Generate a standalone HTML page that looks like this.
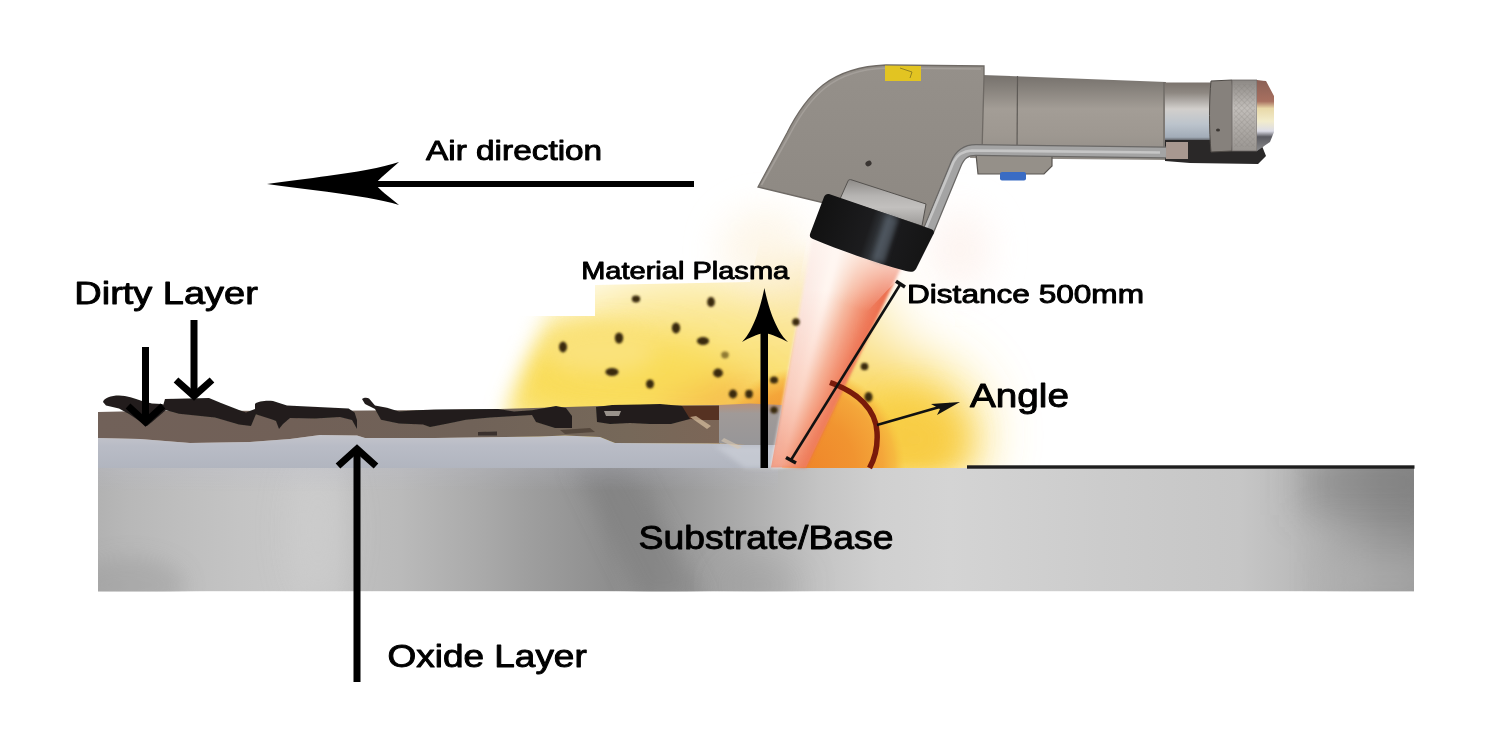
<!DOCTYPE html>
<html><head><meta charset="utf-8"><style>
html,body{margin:0;padding:0;background:#fff;width:1500px;height:750px;overflow:hidden}
svg{display:block}
text{font-family:"Liberation Sans",sans-serif;font-weight:normal;fill:#000;stroke:#000;stroke-width:0.95px;stroke-linejoin:round}
</style></head><body>
<svg width="1500" height="750" viewBox="0 0 1500 750">
<defs>
  <linearGradient id="sub" x1="98" y1="0" x2="1414" y2="0" gradientUnits="userSpaceOnUse">
    <stop offset="0.0000" stop-color="#b2b2b2"/>
    <stop offset="0.0243" stop-color="#b8b8b8"/>
    <stop offset="0.0623" stop-color="#bebebe"/>
    <stop offset="0.1079" stop-color="#c4c4c4"/>
    <stop offset="0.1535" stop-color="#c8c8c8"/>
    <stop offset="0.1801" stop-color="#c6c6c6"/>
    <stop offset="0.1991" stop-color="#bebebe"/>
    <stop offset="0.2295" stop-color="#bababa"/>
    <stop offset="0.2523" stop-color="#b4b4b4"/>
    <stop offset="0.2903" stop-color="#aaaaaa"/>
    <stop offset="0.3283" stop-color="#9e9e9e"/>
    <stop offset="0.3587" stop-color="#969696"/>
    <stop offset="0.3891" stop-color="#8e8e8e"/>
    <stop offset="0.4195" stop-color="#909090"/>
    <stop offset="0.4498" stop-color="#9c9c9c"/>
    <stop offset="0.4802" stop-color="#a8a8a8"/>
    <stop offset="0.5106" stop-color="#b4b4b4"/>
    <stop offset="0.5486" stop-color="#c4c4c4"/>
    <stop offset="0.5942" stop-color="#d0d0d0"/>
    <stop offset="0.6474" stop-color="#d4d4d4"/>
    <stop offset="0.7614" stop-color="#cccccc"/>
    <stop offset="0.8678" stop-color="#c6c6c6"/>
    <stop offset="0.9058" stop-color="#bcbcbc"/>
    <stop offset="0.9286" stop-color="#b0b0b0"/>
    <stop offset="0.9514" stop-color="#a2a2a2"/>
    <stop offset="0.9742" stop-color="#969696"/>
    <stop offset="1.0000" stop-color="#8e8e8e"/>
  </linearGradient>
  <linearGradient id="oxide" x1="0" y1="436" x2="0" y2="468" gradientUnits="userSpaceOnUse">
    <stop offset="0" stop-color="#c2c3ca"/>
    <stop offset="0.3" stop-color="#b9bcc6"/>
    <stop offset="1" stop-color="#b1b5bf"/>
  </linearGradient>
  <linearGradient id="brownG" x1="98" y1="0" x2="720" y2="0" gradientUnits="userSpaceOnUse">
    <stop offset="0" stop-color="#716159"/>
    <stop offset="0.3" stop-color="#716057"/>
    <stop offset="0.6" stop-color="#706258"/>
    <stop offset="0.85" stop-color="#766859"/>
    <stop offset="1" stop-color="#7c6657"/>
  </linearGradient>
  <linearGradient id="blockG" x1="0" y1="403" x2="0" y2="445" gradientUnits="userSpaceOnUse">
    <stop offset="0" stop-color="#b8907a"/>
    <stop offset="0.25" stop-color="#a09a98"/>
    <stop offset="1" stop-color="#979698"/>
  </linearGradient>
  <linearGradient id="beamV" x1="0" y1="290" x2="0" y2="467" gradientUnits="userSpaceOnUse">
    <stop offset="0" stop-color="#f39070" stop-opacity="0"/>
    <stop offset="0.6" stop-color="#f39070" stop-opacity="0.35"/>
    <stop offset="1" stop-color="#ef8060" stop-opacity="0.7"/>
  </linearGradient>
  <linearGradient id="beamTop" x1="866" y1="246" x2="846" y2="305" gradientUnits="userSpaceOnUse">
    <stop offset="0" stop-color="#fff8f4" stop-opacity="0.75"/>
    <stop offset="0.5" stop-color="#fff8f4" stop-opacity="0.35"/>
    <stop offset="1" stop-color="#fff8f4" stop-opacity="0"/>
  </linearGradient>
  <linearGradient id="subTop" x1="0" y1="468" x2="0" y2="492" gradientUnits="userSpaceOnUse">
    <stop offset="0" stop-color="#babccb" stop-opacity="0.25"/>
    <stop offset="1" stop-color="#babccb" stop-opacity="0"/>
  </linearGradient>
  <linearGradient id="rdark" x1="0" y1="468" x2="0" y2="591" gradientUnits="userSpaceOnUse">
    <stop offset="0" stop-color="#6a6a6a" stop-opacity="0.6"/>
    <stop offset="0.6" stop-color="#6a6a6a" stop-opacity="0.3"/>
    <stop offset="1" stop-color="#6a6a6a" stop-opacity="0.05"/>
  </linearGradient>
  <radialGradient id="glowO" cx="805" cy="467" r="100" gradientUnits="userSpaceOnUse">
    <stop offset="0" stop-color="#ef862a"/>
    <stop offset="0.5" stop-color="#f19430"/>
    <stop offset="0.78" stop-color="#f4a63a"/>
    <stop offset="0.9" stop-color="#f5b03c" stop-opacity="0.7"/>
    <stop offset="1" stop-color="#f7c040" stop-opacity="0"/>
  </radialGradient>
  <linearGradient id="headG" x1="0" y1="65" x2="0" y2="230" gradientUnits="userSpaceOnUse">
    <stop offset="0" stop-color="#95908a"/>
    <stop offset="1" stop-color="#8d8882"/>
  </linearGradient>
  <linearGradient id="handleG" x1="0" y1="75" x2="0" y2="160" gradientUnits="userSpaceOnUse">
    <stop offset="0" stop-color="#76716c"/>
    <stop offset="0.15" stop-color="#86817b"/>
    <stop offset="0.4" stop-color="#a39d96"/>
    <stop offset="0.7" stop-color="#9e9891"/>
    <stop offset="1" stop-color="#928d87"/>
  </linearGradient>
  <linearGradient id="cylG" x1="0" y1="82" x2="0" y2="142" gradientUnits="userSpaceOnUse">
    <stop offset="0" stop-color="#7a726c"/>
    <stop offset="0.18" stop-color="#8e8882"/>
    <stop offset="0.45" stop-color="#d2cfcc"/>
    <stop offset="0.7" stop-color="#bcc4cc"/>
    <stop offset="0.92" stop-color="#a2acb8"/>
    <stop offset="1" stop-color="#3a3838"/>
  </linearGradient>
  <linearGradient id="knurlG" x1="0" y1="80" x2="0" y2="150" gradientUnits="userSpaceOnUse">
    <stop offset="0" stop-color="#8c8884"/>
    <stop offset="0.4" stop-color="#c2beba"/>
    <stop offset="1" stop-color="#9a9692"/>
  </linearGradient>
  <linearGradient id="capG" x1="0" y1="80" x2="0" y2="151" gradientUnits="userSpaceOnUse">
    <stop offset="0" stop-color="#8a6055"/>
    <stop offset="0.3" stop-color="#a87060"/>
    <stop offset="0.4" stop-color="#e8d8a8"/>
    <stop offset="0.58" stop-color="#f2eccc"/>
    <stop offset="0.72" stop-color="#dcdce6"/>
    <stop offset="0.8" stop-color="#5a5a60"/>
    <stop offset="1" stop-color="#8a8a8c"/>
  </linearGradient>
  <linearGradient id="ringG" x1="827" y1="194" x2="933" y2="230" gradientUnits="userSpaceOnUse">
    <stop offset="0" stop-color="#121212"/>
    <stop offset="0.45" stop-color="#1c1c1e"/>
    <stop offset="0.6" stop-color="#3c4248"/>
    <stop offset="0.7" stop-color="#1a1a1c"/>
    <stop offset="1" stop-color="#151515"/>
  </linearGradient>
  <linearGradient id="silverG" x1="0" y1="0" x2="0" y2="1">
    <stop offset="0" stop-color="#8e8b88"/>
    <stop offset="0.35" stop-color="#b6b4b2"/>
    <stop offset="0.6" stop-color="#c2c0be"/>
    <stop offset="1" stop-color="#9c9a98"/>
  </linearGradient>
  <filter id="bl30" x="-50%" y="-50%" width="200%" height="200%"><feGaussianBlur stdDeviation="30"/></filter>
  <filter id="bl18" x="-50%" y="-50%" width="200%" height="200%"><feGaussianBlur stdDeviation="18"/></filter>
  <filter id="bl10" x="-50%" y="-50%" width="200%" height="200%"><feGaussianBlur stdDeviation="10"/></filter>
  <filter id="bl3" x="-20%" y="-20%" width="140%" height="140%"><feGaussianBlur stdDeviation="2.5"/></filter>
  <filter id="blp" x="-50%" y="-50%" width="200%" height="200%"><feGaussianBlur stdDeviation="0.7"/></filter>
  <filter id="blbeam" x="-20%" y="-20%" width="140%" height="140%"><feGaussianBlur stdDeviation="1.8"/></filter>
  <filter id="blpart" x="-50%" y="-50%" width="200%" height="200%"><feGaussianBlur stdDeviation="1.2"/></filter>
  <filter id="bl1" x="-20%" y="-20%" width="140%" height="140%"><feGaussianBlur stdDeviation="0.8"/></filter>
  <mask id="glowMask" maskUnits="userSpaceOnUse" x="0" y="0" width="1500" height="750">
    <path d="M560,250 L1500,250 L1500,480 L500,480 L505,410 L535,340 L548,300 Z" fill="#fff" filter="url(#bl10)"/>
  </mask>
  <pattern id="knurl" width="4" height="4" patternUnits="userSpaceOnUse" patternTransform="rotate(45)">
    <rect width="4" height="4" fill="none"/>
    <path d="M0,0 L4,0 M0,0 L0,4" stroke="#7a7672" stroke-width="0.8" opacity="0.5"/>
  </pattern>
  <clipPath id="subClip"><rect x="98" y="468" width="1316" height="123.2"/></clipPath>
  <clipPath id="glowClip"><path d="M0,316 L595,316 L595,285 L750,282 L770,200 L1100,200 L1100,468 L0,468 Z"/></clipPath>
</defs>

<!-- ============ GLOW ============ -->
<g clip-path="url(#glowClip)">
 <g mask="url(#glowMask)">
  <g filter="url(#bl30)">
    <ellipse cx="650" cy="382" rx="190" ry="68" fill="#f9de5c"/>
    <ellipse cx="890" cy="435" rx="85" ry="75" fill="#f9d446"/>
    <ellipse cx="700" cy="322" rx="125" ry="45" fill="#fbe68e"/>
    <ellipse cx="835" cy="330" rx="55" ry="50" fill="#fae496"/>
    <ellipse cx="800" cy="262" rx="45" ry="38" fill="#fcefd0"/>
  </g>
  <g filter="url(#bl18)">
    <ellipse cx="705" cy="398" rx="55" ry="22" fill="#f5b044"/>
    <ellipse cx="620" cy="372" rx="110" ry="34" fill="#f9dc58"/>
    <ellipse cx="915" cy="440" rx="50" ry="40" fill="#f8cc44"/>
  </g>
  <g filter="url(#bl10)">
    <ellipse cx="600" cy="350" rx="55" ry="24" fill="#fae27a"/>
  </g>
 </g>
  <circle cx="805" cy="467" r="100" fill="url(#glowO)"/>
</g>

<g filter="url(#bl18)" opacity="0.7">
  <ellipse cx="765" cy="250" rx="45" ry="40" fill="#fdf3e0"/>
  <ellipse cx="960" cy="250" rx="30" ry="40" fill="#fdf0ea"/>
</g>

<!-- ============ SUBSTRATE ============ -->
<rect x="98" y="468" width="1316" height="123.2" fill="url(#sub)"/>
<g clip-path="url(#subClip)">
  <g filter="url(#bl10)">
    <path d="M572,462 L628,462 L705,600 L640,600 Z" fill="#7a7a7a" opacity="0.45"/>
    <ellipse cx="130" cy="585" rx="55" ry="28" fill="#909090" opacity="0.35"/>
    </g><g filter="url(#bl18)">
    <rect x="1300" y="450" width="140" height="65" fill="#6a6a6a" opacity="0.35"/>
    <rect x="1330" y="550" width="110" height="60" fill="#c4c4c4" opacity="0.4"/>
    <ellipse cx="760" cy="585" rx="40" ry="20" fill="#8a8a8a" opacity="0.35"/>
    <ellipse cx="318" cy="530" rx="22" ry="70" fill="#d2d2d2" opacity="0.5"/>
  </g>
  <rect x="98" y="468" width="680" height="24" fill="url(#subTop)"/>
</g>
<!-- oxide layer -->
<path d="M98,438 L140,439 L190,443 L250,442 L290,439 L320,435 L357,435.5 L365,438 L435,438 L540,436.5 L565,435.5 L600,437 L615,443 L720,443.5 L745,445 L782,445 L782,468 L98,468 Z" fill="url(#oxide)"/>
<!-- dirty brown layer -->
<path d="M98,412 L165,410.5 L300,411 L435,410 L500,409 L600,406 L720,405 L720,443.5 L615,443 L600,437 L565,435.5 L540,436.5 L435,438 L365,438 L357,435.5 L320,435 L290,439 L250,442 L190,443 L140,439 L98,438 Z" fill="url(#brownG)"/>
<path d="M715,446 L782,446 L782,468 L745,468 Z" fill="#d2d6de" opacity="0.55" filter="url(#bl3)"/>
<!-- cleaned transitional block -->
<path d="M719,405 L750,403.5 L782,405 L782,445 L745,445 L719,443.5 Z" fill="url(#blockG)"/>
<path d="M724,438 L742,447 L738,449 L721,441 Z" fill="#d8c8b0" opacity="0.6"/>
<!-- dark dirt blobs -->
<g fill="#211f1d" filter="url(#blp)">
  <path d="M103,402 C104,398 111,395.5 119,395.5 C127,395.5 134,398 142,401 L152,403.5 L162,404 L166,406 L166,410 L152,422 L147,426 L141,422 L129,414 L119,408.5 L106,405.5 Z"/>
  <path d="M165,399 L209,398 L221,403 L239,410 L246,412.5 L255,409 L256,414 L251,426 L239,424.6 L215,417.4 L179,413.8 L162,409 Z"/>
  <path d="M255,404 C258,401 266,400.5 273,401 L287,405.4 L297,406 L348.6,408.4 L354.6,412.6 L357,420 L357,429 L352,420 L340,417 L315,418.6 L290,418 L283,424 L279,429 L276,421 L273,419.8 L255,414 Z"/>
  <path d="M362,399 C364,397.5 367,397.5 369,398.5 L375,405.4 L387,407.8 L399,411.4 L417,410.2 L435,409.6 L498,409 L514,411.4 L532,410.2 L556,406 L566,408 L572,416 L572,428 L555,428 L536,422 L532,415 L490,417.4 L466,419.8 L448,423.4 L430,427 L423,424.6 L399,423.4 L381,419.8 L375,409 L365,404 Z"/>
  <path d="M478,432 L497,431.5 L497,435.5 L478,435.5 Z" opacity="0.7"/>
  <path d="M596,407 L612,405 L640,404.5 L660,404 L682,406 L700,406 L700,419 L690,419 L671,424 L650,424 L630,423 L610,424 L597,422 Z"/>
</g>
<path d="M682,406 L719,406 L719,420 L700,420 L690,419 Z" fill="#563222"/>
<path d="M690,417 L696,416 L711,426 L707,429 Z" fill="#d8c0a0" opacity="0.7"/>
<path d="M604,411 L621,411 L619,416 L606,416 Z" fill="#b8b0a8" opacity="0.8"/>
<g fill="#3a2e24" opacity="0.55">
  <path d="M560,430 L590,428 L595,432 L565,434 Z"/>
</g>

<!-- black line on right substrate top -->
<rect x="967" y="465.3" width="447.5" height="3.4" fill="#1e1e1e"/>

<!-- ============ BEAM ============ -->
<g filter="url(#blbeam)">
<path d="M812.0,239.0 L816.6,240.5 L772.8,467.5 L771.0,467.5Z" fill="#fbe9e3"/>
<path d="M815.7,240.2 L820.3,241.7 L774.3,467.5 L772.5,467.5Z" fill="#fceae4"/>
<path d="M819.4,241.4 L824.0,242.9 L775.7,467.5 L773.9,467.5Z" fill="#fcece6"/>
<path d="M823.1,242.6 L827.7,244.1 L777.2,467.5 L775.4,467.5Z" fill="#fdeee8"/>
<path d="M826.8,243.8 L831.4,245.3 L778.6,467.5 L776.8,467.5Z" fill="#fef0ea"/>
<path d="M830.5,245.0 L835.1,246.5 L780.1,467.5 L778.3,467.5Z" fill="#fef3ed"/>
<path d="M834.2,246.2 L838.8,247.7 L781.6,467.5 L779.8,467.5Z" fill="#fff5f0"/>
<path d="M838.0,247.5 L842.6,249.0 L783.0,467.5 L781.2,467.5Z" fill="#fff4ee"/>
<path d="M841.7,248.7 L846.3,250.2 L784.5,467.5 L782.7,467.5Z" fill="#fdece3"/>
<path d="M845.4,249.9 L850.0,251.4 L785.9,467.5 L784.1,467.5Z" fill="#fce3d7"/>
<path d="M849.1,251.1 L853.7,252.6 L787.4,467.5 L785.6,467.5Z" fill="#fadaca"/>
<path d="M852.8,252.3 L857.4,253.8 L788.9,467.5 L787.0,467.5Z" fill="#f9d0bd"/>
<path d="M856.5,253.5 L861.1,255.0 L790.3,467.5 L788.5,467.5Z" fill="#f8c6b0"/>
<path d="M860.2,254.7 L864.8,256.2 L791.8,467.5 L790.0,467.5Z" fill="#f7bba3"/>
<path d="M863.9,255.9 L868.5,257.4 L793.2,467.5 L791.4,467.5Z" fill="#f6b399"/>
<path d="M867.6,257.1 L872.2,258.6 L794.7,467.5 L792.9,467.5Z" fill="#f5aa8f"/>
<path d="M871.3,258.3 L875.9,259.8 L796.1,467.5 L794.3,467.5Z" fill="#f4a184"/>
<path d="M875.0,259.5 L879.6,261.0 L797.6,467.5 L795.8,467.5Z" fill="#f3987a"/>
<path d="M878.8,260.8 L883.3,262.2 L799.1,467.5 L797.2,467.5Z" fill="#f29071"/>
<path d="M882.5,262.0 L887.1,263.5 L800.5,467.5 L798.7,467.5Z" fill="#f18868"/>
<path d="M886.2,263.2 L890.8,264.7 L802.0,467.5 L800.2,467.5Z" fill="#ef7f5f"/>
<path d="M889.9,264.4 L894.5,265.9 L803.4,467.5 L801.6,467.5Z" fill="#ee7858"/>
<path d="M893.6,265.6 L898.2,267.1 L804.9,467.5 L803.1,467.5Z" fill="#ed7353"/>
<path d="M897.3,266.8 L901.0,268.0 L806.0,467.5 L804.5,467.5Z" fill="#ec6d4d"/>
</g>
<path d="M812,239 L901,268 L806,467.5 L771,467.5 Z" fill="url(#beamV)"/>
<path d="M808,234 L910,266 L850,330 L790,330 Z" fill="url(#beamTop)"/>


<!-- ============ GUN ============ -->
<g>
  <!-- handle (right section) -->
  <path d="M982,75 L1166,82 L1166,160 L970,158 Z" fill="url(#handleG)"/>
  <line x1="1017.5" y1="76" x2="1017" y2="153" stroke="#5e5a56" stroke-width="1.2"/>
  <line x1="1164" y1="82" x2="1164" y2="158" stroke="#6a6662" stroke-width="1.2"/>
  <!-- lower tab -->
  <path d="M976,154 L1052,156 L1052,166 L1044,174 L978,174 Z" fill="#959089" stroke="#5a5652" stroke-width="1.2"/>
  <!-- blue button -->
  <rect x="1000" y="172" width="26" height="8.5" rx="2" fill="#3a6cc4"/>
  <!-- cylinder -->
  <rect x="1165" y="82.5" width="47" height="59" fill="url(#cylG)"/>
  <!-- dark base under cylinder -->
  <path d="M1165,140 L1212,140 L1212,146 L1262,146 L1266,156 L1258,164 L1190,163 L1165,161 Z" fill="#2a2828"/>
  <rect x="1166" y="142" width="22" height="17" fill="#a89890"/>
  <!-- ring nut -->
  <path d="M1211,81 L1232,80 C1234,100 1234,130 1232,151 L1211,152 C1209,130 1209,100 1211,81 Z" fill="#86817c" stroke="#4e4a46" stroke-width="1"/>
  <ellipse cx="1218" cy="130" rx="2" ry="1.5" fill="#3a3632"/>
  <!-- knurled nut -->
  <path d="M1232,80 L1257,80 L1257,151 L1232,151 Z" fill="url(#knurlG)" stroke="#6a6662" stroke-width="0.8"/>
  <rect x="1234" y="84" width="21" height="63" fill="url(#knurl)"/>
  <!-- end cap -->
  <path d="M1257,80 L1266,81 L1274,96 L1274,132 L1270,142 L1257,151 Z" fill="url(#capG)"/>
  <!-- main head body -->
  <path d="M758,187 L787,133 C796,115 808,97 823,85 C840,72 862,66 886,65 L984,66 L984,77 L982,152 L966,152 C962,156 960,160 958,166 L932,230 L828,195 L824,203 Z" fill="url(#headG)" stroke="#6f6a65" stroke-width="1.3"/>
  <path d="M761.5,185 L790,134 C799,117 810,100 825,88 C841,75 862,69 886,68 L981,69" fill="none" stroke="#a8a39d" stroke-width="1.6" opacity="0.8"/>
  <!-- yellow warning label -->
  <path d="M885,65.5 L921,66 L921,81 L885,81 Z" fill="#e2c422"/>
  <path d="M900,68 L912,72 L910,78" fill="none" stroke="#8a7a20" stroke-width="0.9"/>
  <!-- small dot -->
  <ellipse cx="868.5" cy="163.5" rx="3.2" ry="2.6" fill="#3a3532" transform="rotate(-30 868.5 163.5)"/>
  <!-- silver cylinder under body -->
  <path d="M848,181 C848,180 850,179 852,180 L926,204 L922,226 L840,199 Z" fill="url(#silverG)" stroke="#55524f" stroke-width="1"/>
  <!-- tube / arm -->
  <path d="M928,232 L956,164 C960,154 966,150 976,150 L1166,152.5" fill="none" stroke="#6a6866" stroke-width="12"/>
  <path d="M928,232 L956,164 C960,154 966,150 976,150 L1166,152.5" fill="none" stroke="#a4a4a4" stroke-width="9.5"/>
  <path d="M925.5,229 L953.5,162 C957.5,154 963,151 972,150.5 L1160,152.5" fill="none" stroke="#c6c6c6" stroke-width="2.6"/>
  <!-- black nozzle ring -->
  <path d="M829,194 L931,229 C934,230 934.5,232 933.5,234 L916,269 C914,272 911,272.5 906,271 C872,262 840,250 813,239 C810,238 809.5,236 810,234 L824,197 C825,194.5 827,193.5 829,194 Z" fill="url(#ringG)"/>
  <path d="M886,215 L898,219 L884,263 L872,259 Z" fill="#5a646e" opacity="0.6" filter="url(#bl3)"/>
</g>

<!-- ============ PARTICLES ============ -->
<g fill="#3a2a0a" filter="url(#blpart)">
  <ellipse cx="636" cy="299" rx="4.2" ry="3.4"/>
  <ellipse cx="711" cy="302" rx="3.9" ry="5.1"/>
  <ellipse cx="676" cy="328" rx="4.2" ry="5.4"/>
  <ellipse cx="619" cy="338" rx="4.2" ry="5.6"/>
  <ellipse cx="563" cy="347" rx="4.0" ry="5.4"/>
  <ellipse cx="703" cy="341" rx="6.1" ry="4.0"/>
  <ellipse cx="725" cy="355" rx="3.8" ry="3.4" opacity="0.55"/>
  <ellipse cx="612" cy="372" rx="6.6" ry="4.0"/>
  <ellipse cx="650" cy="384" rx="4.0" ry="4.6"/>
  <ellipse cx="718" cy="373" rx="4.9" ry="4.4"/>
  <ellipse cx="733" cy="394" rx="4.2" ry="4.4"/>
  <ellipse cx="749" cy="394" rx="3.8" ry="4.2"/>
  <ellipse cx="774" cy="380" rx="4.0" ry="3.6"/>
  <ellipse cx="774" cy="410" rx="3.6" ry="3.6"/>
  <ellipse cx="796" cy="322" rx="3.8" ry="3.8"/>
  <ellipse cx="864.5" cy="366.5" rx="3.8" ry="3.8"/>
  <ellipse cx="868.5" cy="397" rx="4.0" ry="5.0"/>
</g>

<!-- ============ ANNOTATIONS ============ -->
<!-- angle arc -->
<path d="M830,382.5 C858,392 876,410 877,432 C878,447 874,460 869.5,468" fill="none" stroke="#7a1a0a" stroke-width="5.5"/>

<!-- distance line -->
<line x1="791" y1="460" x2="900.5" y2="284" stroke="#111" stroke-width="2.6"/>
<line x1="896" y1="281.3" x2="905" y2="287" stroke="#111" stroke-width="3.6"/>
<line x1="786" y1="457.5" x2="796" y2="463" stroke="#111" stroke-width="3.6"/>

<!-- angle pointer -->
<line x1="877" y1="425" x2="950" y2="404" stroke="#111" stroke-width="2.5"/>
<path d="M960,402 L931,404 L940,409 L937,415 Z" fill="#111"/>

<!-- up arrow (plasma) -->
<rect x="760.5" y="320" width="7.5" height="148" fill="#000"/>
<path d="M764.4,288 C768,305 775,330 788,342 C780,338 772,334 764.4,333 C757,334 749,338 742,342 C754,330 761,305 764.4,288 Z" fill="#000"/>

<!-- air direction arrow -->
<rect x="372" y="181" width="322" height="6" fill="#000"/>
<path d="M267,184 C310,178 370,172 399,162 C388,172 380,178 375,184 C380,190 388,196 399,205 C370,196 310,190 267,184 Z" fill="#000"/>

<!-- dirty layer arrows + oxide arrow -->
<g stroke="#000" stroke-width="7" fill="none">
  <line x1="145.5" y1="347" x2="145.5" y2="420"/>
  <polyline points="128,406 145.5,422 163,406"/>
  <line x1="194" y1="320" x2="194" y2="393"/>
  <polyline points="176,380 194,396 212,380"/>
  <line x1="357" y1="450" x2="357" y2="682"/>
  <polyline points="338,466 357,449 376,466"/>
</g>

<!-- text -->
<text x="426.0" y="160" font-size="27.6" textLength="176.2" lengthAdjust="spacingAndGlyphs">Air direction</text>
<text x="74.3" y="303.7" font-size="32" textLength="183.5" lengthAdjust="spacingAndGlyphs">Dirty Layer</text>
<text x="581.2" y="278.8" font-size="24.4" textLength="208.0" lengthAdjust="spacingAndGlyphs">Material Plasma</text>
<text x="907.0" y="303" font-size="26.2" textLength="237.0" lengthAdjust="spacingAndGlyphs">Distance 500mm</text>
<text x="970.0" y="406.7" font-size="33" textLength="99.0" lengthAdjust="spacingAndGlyphs">Angle</text>
<text x="638.6" y="548.7" font-size="32.4" textLength="254.8" lengthAdjust="spacingAndGlyphs">Substrate/Base</text>
<text x="387.6" y="666.9" font-size="31.4" textLength="199.1" lengthAdjust="spacingAndGlyphs">Oxide Layer</text>
</svg>
</body></html>
